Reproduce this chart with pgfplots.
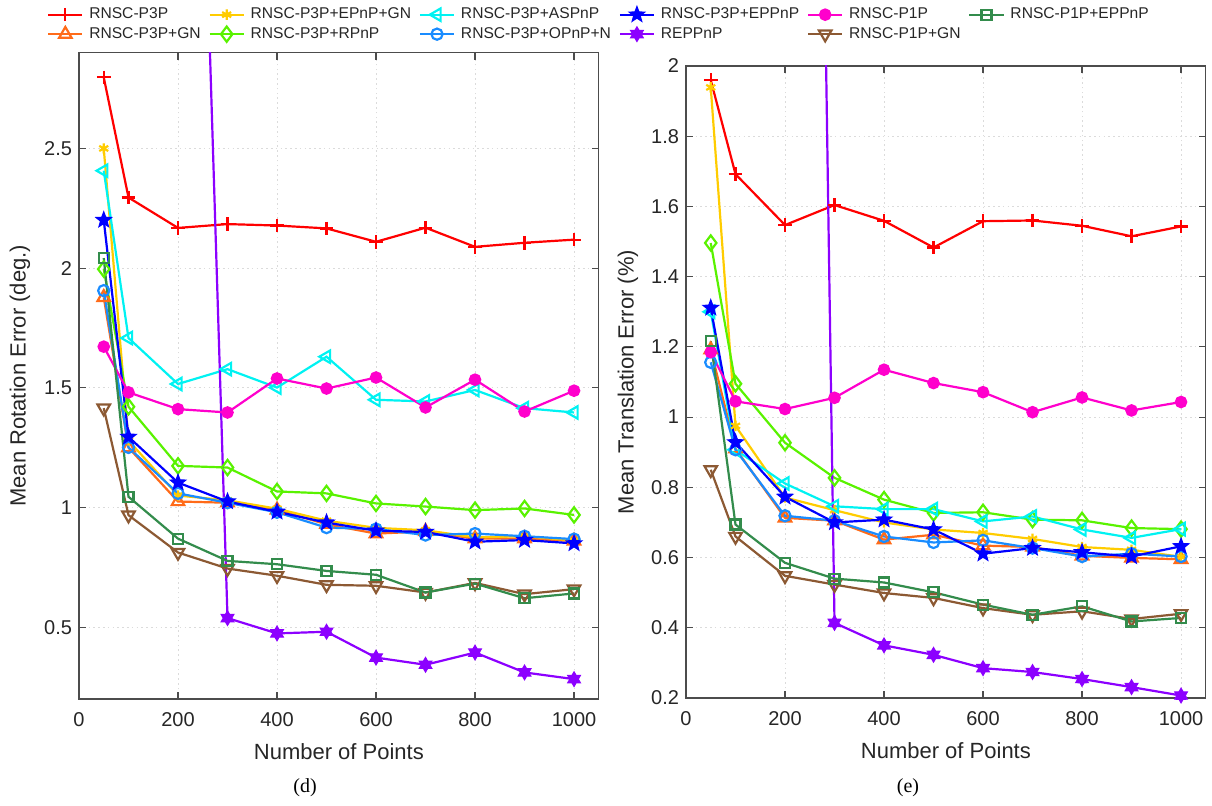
\documentclass[border=0pt]{standalone}
\usepackage{fontspec}
\setmainfont{Liberation Sans}
\newfontfamily\capfont{Liberation Serif}
\usepackage{pgfplots}
\usepackage{pgfplotstable}
\pgfplotsset{compat=1.18}

\definecolor{cRed}{rgb}{1,0,0}
\definecolor{cOrange}{rgb}{1,0.42,0.1}
\definecolor{cGold}{rgb}{1,0.8,0}
\definecolor{cLime}{rgb}{0.35,0.95,0}
\definecolor{cCyan}{rgb}{0,0.95,0.95}
\definecolor{cSky}{rgb}{0.1,0.55,1}
\definecolor{cBlue}{rgb}{0,0,1}
\definecolor{cPurple}{rgb}{0.55,0,1}
\definecolor{cMag}{rgb}{1,0,0.8}
\definecolor{cBrown}{rgb}{0.55,0.35,0.2}
\definecolor{cDGreen}{rgb}{0.2,0.55,0.3}

\pgfdeclareplotmark{pstar}{%
  \pgfpathmoveto{\pgfpointpolar{90}{\pgfplotmarksize}}%
  \pgfpathlineto{\pgfpointpolar{126}{0.42\pgfplotmarksize}}%
  \pgfpathlineto{\pgfpointpolar{162}{\pgfplotmarksize}}%
  \pgfpathlineto{\pgfpointpolar{198}{0.42\pgfplotmarksize}}%
  \pgfpathlineto{\pgfpointpolar{234}{\pgfplotmarksize}}%
  \pgfpathlineto{\pgfpointpolar{270}{0.42\pgfplotmarksize}}%
  \pgfpathlineto{\pgfpointpolar{306}{\pgfplotmarksize}}%
  \pgfpathlineto{\pgfpointpolar{342}{0.42\pgfplotmarksize}}%
  \pgfpathlineto{\pgfpointpolar{18}{\pgfplotmarksize}}%
  \pgfpathlineto{\pgfpointpolar{54}{0.42\pgfplotmarksize}}%
  \pgfpathclose
  \pgfusepathqfillstroke
}
\pgfdeclareplotmark{hstar}{%
  \pgfpathmoveto{\pgfpointpolar{90}{\pgfplotmarksize}}%
  \pgfpathlineto{\pgfpointpolar{120}{0.58\pgfplotmarksize}}%
  \pgfpathlineto{\pgfpointpolar{150}{\pgfplotmarksize}}%
  \pgfpathlineto{\pgfpointpolar{180}{0.58\pgfplotmarksize}}%
  \pgfpathlineto{\pgfpointpolar{210}{\pgfplotmarksize}}%
  \pgfpathlineto{\pgfpointpolar{240}{0.58\pgfplotmarksize}}%
  \pgfpathlineto{\pgfpointpolar{270}{\pgfplotmarksize}}%
  \pgfpathlineto{\pgfpointpolar{300}{0.58\pgfplotmarksize}}%
  \pgfpathlineto{\pgfpointpolar{330}{\pgfplotmarksize}}%
  \pgfpathlineto{\pgfpointpolar{0}{0.58\pgfplotmarksize}}%
  \pgfpathlineto{\pgfpointpolar{30}{\pgfplotmarksize}}%
  \pgfpathlineto{\pgfpointpolar{60}{0.58\pgfplotmarksize}}%
  \pgfpathclose
  \pgfusepathqfillstroke
}

\pgfplotsset{
  base/.style={line width=1.1pt, mark options={solid, line width=1.1pt}},
  sP3P/.style={base, color=cRed, mark=+, mark size=3.4pt},
  sGN/.style={base, color=cOrange, mark=triangle, mark size=3.6pt},
  sEG/.style={base, color=cGold, mark=asterisk, mark size=2.6pt},
  sRP/.style={base, color=cLime, mark=diamond, mark size=3.8pt},
  sAS/.style={line width=1.1pt, color=cCyan, mark=triangle, mark size=3.6pt, mark options={solid, line width=1.1pt, rotate=90}},
  sOP/.style={base, color=cSky, mark=o, mark size=2.8pt},
  sEP/.style={line width=1.1pt, color=cBlue, mark=pstar, mark size=4pt, mark options={solid, line width=0.6pt}},
  sRE/.style={line width=1.1pt, color=cPurple, mark=hstar, mark size=3.6pt, mark options={solid, line width=0.6pt}},
  sP1/.style={base, color=cMag, mark=*, mark size=2.6pt},
  sP1G/.style={line width=1.1pt, color=cBrown, mark=triangle, mark size=3.6pt, mark options={solid, line width=1.1pt, rotate=180}},
  sP1E/.style={base, color=cDGreen, mark=square, mark size=2.5pt},
  common/.style={
    scale only axis, width=259.9pt,
    xmin=0, xmax=1050, xtick={0,200,400,600,800,1000},
    grid=major,
    major grid style={gray!28, dash pattern=on 0.8pt off 1.6pt, line width=0.4pt},
    axis line style={black!70, line width=0.6pt},
    tick style={black!70, line width=0.6pt},
    major tick length=3.5pt,
    tick align=inside,
    tick label style={font=\fontsize{10}{12}\selectfont, text=black!85},
    /pgf/number format/assume math mode=true,
    /pgf/number format/1000 sep={},
    scaled ticks=false,
    xticklabel style={yshift=-3pt},
    label style={font=\fontsize{11}{13}\selectfont, text=black!85},
    xlabel={Number of Points},
    xlabel style={at={(axis description cs:0.5,0)}, anchor=center, yshift=-26.3pt},
  },
}

\pgfplotstableread{
N    P3P   GN    EG    RP    AS    OP    EP    RE    P1    P1G   P1E
50   2.797 1.878 2.500 1.996 2.407 1.906 2.201 nan   1.672 1.415 2.042
100  2.295 1.250 1.280 1.421 1.708 1.251 1.295 nan   1.481 0.968 1.045
200  2.168 1.025 1.050 1.174 1.516 1.059 1.104 7.200 1.411 0.812 0.870
300  2.184 1.020 1.030 1.167 1.578 1.020 1.025 0.538 1.397 0.745 0.777
400  2.178 0.990 0.995 1.067 1.501 0.980 0.982 0.474 1.539 0.715 0.763
500  2.166 0.930 0.945 1.059 1.630 0.916 0.937 0.481 1.497 0.677 0.735
600  2.110 0.891 0.915 1.017 1.450 0.910 0.903 0.373 1.543 0.673 0.719
700  2.169 0.900 0.905 1.004 1.443 0.885 0.898 0.343 1.418 0.645 0.645
800  2.089 0.870 0.875 0.989 1.491 0.891 0.857 0.394 1.534 0.685 0.682
900  2.106 0.870 0.880 0.996 1.415 0.880 0.864 0.311 1.401 0.638 0.621
1000 2.119 0.860 0.862 0.969 1.397 0.868 0.850 0.283 1.488 0.659 0.641
}\rotdata

\pgfplotstableread{
N    P3P   GN    EG    RP    AS    OP    EP    RE    P1    P1G   P1E
50   1.960 1.192 1.939 1.496 1.300 1.156 1.311 nan   1.185 0.850 1.216
100  1.692 0.910 0.975 1.095 0.907 0.907 0.928 nan   1.045 0.660 0.694
200  1.547 0.713 0.771 0.927 0.811 0.719 0.773 9.760 1.023 0.548 0.585
300  1.604 0.705 0.735 0.827 0.746 0.705 0.700 0.414 1.055 0.523 0.540
400  1.559 0.651 0.700 0.765 0.738 0.660 0.708 0.350 1.135 0.499 0.529
500  1.483 0.665 0.680 0.727 0.738 0.643 0.680 0.323 1.097 0.485 0.501
600  1.558 0.634 0.670 0.729 0.703 0.649 0.611 0.285 1.071 0.456 0.466
700  1.560 0.630 0.653 0.708 0.717 0.627 0.627 0.274 1.014 0.437 0.437
800  1.545 0.605 0.630 0.706 0.680 0.603 0.615 0.254 1.056 0.447 0.461
900  1.515 0.599 0.622 0.684 0.656 0.611 0.603 0.231 1.019 0.425 0.418
1000 1.543 0.595 0.602 0.681 0.681 0.603 0.632 0.207 1.043 0.440 0.428
}\trandata

\begin{document}
\begin{tikzpicture}
\path[use as bounding box] (0pt,0pt) rectangle (606pt,402.5pt);

\begin{axis}[common,
  at={(39.5pt,53pt)}, anchor=south west, height=323.15pt,
  ymin=0.2, ymax=2.9, ytick={0.5,1,1.5,2,2.5},
  ylabel={Mean Rotation Error (deg.)},
  ylabel style={at={(axis description cs:-0.1135,0.5)}, anchor=center},
  legend columns=6,
  legend style={draw=none, fill=none, inner sep=0pt,
    font=\fontsize{7.8}{9}\selectfont, text=black!85,
    at={(axis description cs:-0.062,1.073)}, anchor=north west,
    nodes={inner sep=0.9pt, anchor=west},
    row sep=1pt,
    /tikz/every odd column/.append style={column sep=2pt},
    /tikz/every even column/.append style={column sep=3pt}},
]
\addlegendimage{sP3P}\addlegendentry{RNSC-P3P}
\addlegendimage{sEG}\addlegendentry{RNSC-P3P+EPnP+GN}
\addlegendimage{sAS}\addlegendentry{RNSC-P3P+ASPnP}
\addlegendimage{sEP}\addlegendentry{RNSC-P3P+EPPnP}
\addlegendimage{sP1}\addlegendentry{RNSC-P1P}
\addlegendimage{sP1E}\addlegendentry{RNSC-P1P+EPPnP}
\addlegendimage{sGN}\addlegendentry{RNSC-P3P+GN}
\addlegendimage{sRP}\addlegendentry{RNSC-P3P+RPnP}
\addlegendimage{sOP}\addlegendentry{RNSC-P3P+OPnP+N}
\addlegendimage{sRE}\addlegendentry{REPPnP}
\addlegendimage{sP1G}\addlegendentry{RNSC-P1P+GN}
\addplot[sP3P, forget plot] table[x=N, y=P3P] {\rotdata};
\addplot[sGN, forget plot] table[x=N, y=GN] {\rotdata};
\addplot[sEG, forget plot] table[x=N, y=EG] {\rotdata};
\addplot[sRP, forget plot] table[x=N, y=RP] {\rotdata};
\addplot[sAS, forget plot] table[x=N, y=AS] {\rotdata};
\addplot[sOP, forget plot] table[x=N, y=OP] {\rotdata};
\addplot[sEP, forget plot] table[x=N, y=EP] {\rotdata};
\addplot[sRE, forget plot] table[x=N, y=RE] {\rotdata};
\addplot[sP1, forget plot] table[x=N, y=P1] {\rotdata};
\addplot[sP1G, forget plot] table[x=N, y=P1G] {\rotdata};
\addplot[sP1E, forget plot] table[x=N, y=P1E] {\rotdata};
\end{axis}

\begin{axis}[common,
  at={(343pt,53.5pt)}, anchor=south west, height=316pt,
  ymin=0.2, ymax=2, ytick={0.2,0.4,0.6,0.8,1,1.2,1.4,1.6,1.8,2},
  ylabel={Mean Translation Error (\%)},
  ylabel style={at={(axis description cs:-0.1116,0.5)}, anchor=center},
]
\addplot[sP3P] table[x=N, y=P3P] {\trandata};
\addplot[sGN] table[x=N, y=GN] {\trandata};
\addplot[sEG] table[x=N, y=EG] {\trandata};
\addplot[sRP] table[x=N, y=RP] {\trandata};
\addplot[sAS] table[x=N, y=AS] {\trandata};
\addplot[sOP] table[x=N, y=OP] {\trandata};
\addplot[sEP] table[x=N, y=EP] {\trandata};
\addplot[sRE] table[x=N, y=RE] {\trandata};
\addplot[sP1] table[x=N, y=P1] {\trandata};
\addplot[sP1G] table[x=N, y=P1G] {\trandata};
\addplot[sP1E] table[x=N, y=P1E] {\trandata};
\end{axis}

\node[font=\capfont\fontsize{10}{12}\selectfont] at (152.5pt,8.5pt) {(d)};
\node[font=\capfont\fontsize{10}{12}\selectfont] at (454pt,8.5pt) {(e)};
\end{tikzpicture}
\end{document}
